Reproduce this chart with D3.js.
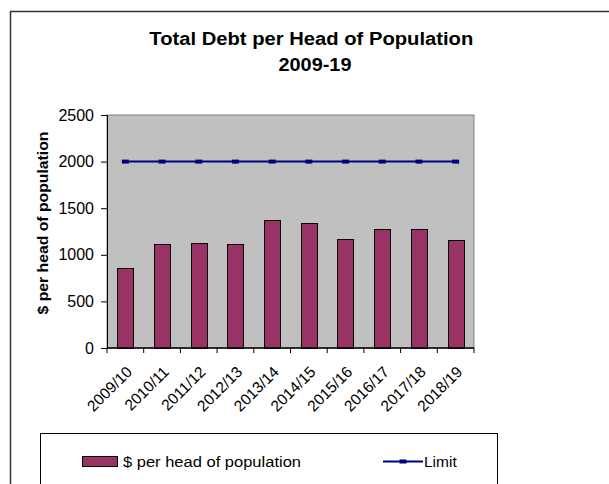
<!DOCTYPE html>
<html><head><meta charset="utf-8">
<script src="https://cdn.jsdelivr.net/npm/d3@7"></script>
<style>html,body{margin:0;padding:0;background:#fff;overflow:hidden;}svg{display:block;font-family:Arial,"Liberation Sans",sans-serif;}</style>
</head><body>
<script>
const categories = ["2009/10","2010/11","2011/12","2012/13","2013/14","2014/15","2015/16","2016/17","2017/18","2018/19"];
const perHead = [861, 1113, 1127, 1113, 1373, 1344, 1170, 1280, 1280, 1156];
const limit = [2000, 2000, 2000, 2000, 2000, 2000, 2000, 2000, 2000, 2000];
const yTicks = [0, 500, 1000, 1500, 2000, 2500];
const titleLines = ["Total Debt per Head of Population", "2009-19"];
const yLabel = "$ per head of population";
const legendLabels = ["$ per head of population", "Limit"];

const W = 609, H = 484;
const svg = d3.select("body").append("svg").attr("width", W).attr("height", H);
svg.append("rect").attr("width", W).attr("height", H).attr("fill", "#fff");

// outer chart border (top and left edges visible)
svg.append("path").attr("d", `M10.5,${H}V11.5H${W}`)
  .attr("fill", "none").attr("stroke", "#333").attr("stroke-width", 1.5);

// title
svg.append("text").attr("x", 311.3).attr("y", 45).attr("text-anchor", "middle")
  .attr("font-size", 17.5).attr("font-weight", "bold").attr("textLength", 324).attr("lengthAdjust", "spacingAndGlyphs")
  .text(titleLines[0]);
svg.append("text").attr("x", 315).attr("y", 71).attr("text-anchor", "middle")
  .attr("font-size", 17.5).attr("font-weight", "bold").attr("textLength", 73).attr("lengthAdjust", "spacingAndGlyphs")
  .text(titleLines[1]);

const px0 = 107, px1 = 474, py0 = 115, py1 = 348;
const x = d3.scaleBand().domain(categories).range([px0, px1]).paddingInner(0.56).paddingOuter(0.28);
const y = d3.scaleLinear().domain([0, 2500]).range([py1, py0]);

// plot area
svg.append("rect").attr("x", px0).attr("y", py0).attr("width", px1 - px0).attr("height", py1 - py0)
  .attr("fill", "#c0c0c0").attr("stroke", "#808080").attr("stroke-width", 1);

// bars
svg.append("g").selectAll("rect").data(perHead).join("rect")
  .attr("x", (d, i) => Math.round(x(categories[i])) + 0.5)
  .attr("y", d => Math.round(y(d)) + 0.5)
  .attr("width", Math.round(x.bandwidth()))
  .attr("height", d => Math.round(y(0)) - Math.round(y(d)))
  .attr("fill", "#993366").attr("stroke", "#000").attr("stroke-width", 1);

// limit line
const cx = i => x(categories[i]) + x.bandwidth() / 2;
svg.append("path").datum(limit)
  .attr("d", d3.line().x((d, i) => cx(i)).y(d => y(d)))
  .attr("fill", "none").attr("stroke", "#000080").attr("stroke-width", 2);
svg.append("g").selectAll("rect").data(limit).join("rect")
  .attr("x", (d, i) => cx(i) - 3.5).attr("y", d => y(d) - 2).attr("width", 7).attr("height", 4)
  .attr("fill", "#000080");

// y axis
const yAxis = svg.append("g").attr("transform", `translate(${px0},0)`)
  .call(d3.axisLeft(y).tickValues(yTicks).tickSize(6).tickPadding(7).tickFormat(d3.format("d")));
yAxis.select(".domain").attr("stroke", "#000");
yAxis.selectAll(".tick line").attr("stroke", "#000");
yAxis.selectAll("text").attr("font-size", 16).attr("fill", "#000").attr("font-family", "Arial, 'Liberation Sans', sans-serif");

// x axis (ticks at category boundaries)
const xAxisG = svg.append("g").attr("transform", `translate(0,${py1})`);
xAxisG.append("line").attr("x1", px0).attr("x2", px1).attr("stroke", "#000").attr("stroke-width", 1.5);
const step = x.step();
const bounds = d3.range(categories.length + 1).map(i => px0 + i * step);
xAxisG.selectAll("line.t").data(bounds).join("line").attr("class", "t")
  .attr("x1", d => d).attr("x2", d => d).attr("y1", 0).attr("y2", 5).attr("stroke", "#000");
xAxisG.selectAll("text").data(categories).join("text")
  .attr("transform", (d, i) => `translate(${cx(i)},${17}) rotate(-45)`)
  .attr("text-anchor", "end").attr("dy", "0.71em").attr("font-size", 15.5).text(d => d);

// y axis title
svg.append("text").attr("transform", "translate(48,223) rotate(-90)").attr("text-anchor", "middle")
  .attr("font-size", 14.5).attr("font-weight", "bold").attr("textLength", 183).attr("lengthAdjust", "spacingAndGlyphs")
  .text(yLabel);

// legend
svg.append("rect").attr("x", 40.5).attr("y", 433.5).attr("width", 457).attr("height", 80)
  .attr("fill", "#fff").attr("stroke", "#000").attr("stroke-width", 1);
svg.append("rect").attr("x", 82.5).attr("y", 456.5).attr("width", 35).attr("height", 10)
  .attr("fill", "#993366").attr("stroke", "#000").attr("stroke-width", 1);
svg.append("text").attr("x", 123).attr("y", 466.5).attr("font-size", 15.5)
  .attr("textLength", 178).attr("lengthAdjust", "spacingAndGlyphs").text(legendLabels[0]);
svg.append("line").attr("x1", 383).attr("x2", 423).attr("y1", 461.5).attr("y2", 461.5)
  .attr("stroke", "#000080").attr("stroke-width", 2);
svg.append("rect").attr("x", 399.5).attr("y", 459.5).attr("width", 7).attr("height", 4).attr("fill", "#000080");
svg.append("text").attr("x", 424).attr("y", 466.5).attr("font-size", 15.5).text(legendLabels[1]);
</script>
</body></html>
